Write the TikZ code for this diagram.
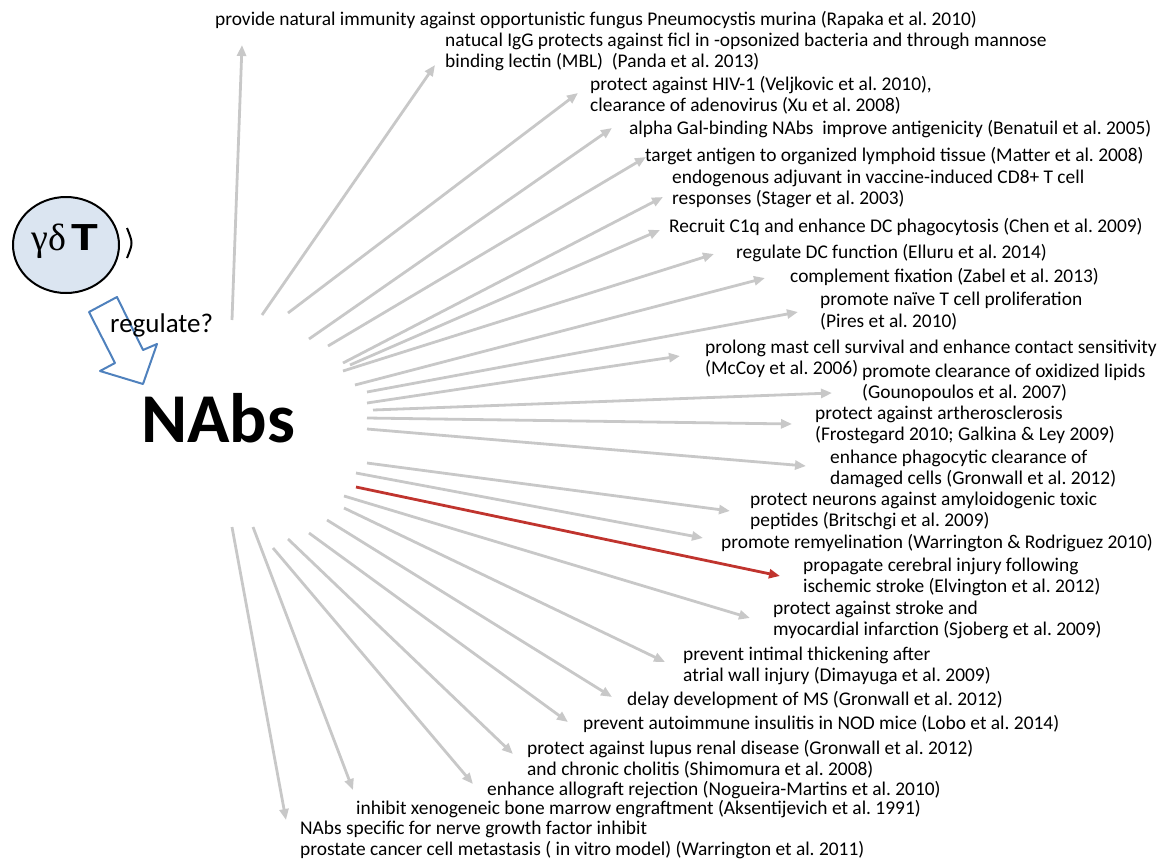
\documentclass[tikz,border=0pt]{standalone}
\usepackage{fontspec}
\setmainfont{Carlito}
\newfontfamily\greekfont{Liberation Serif}
\usetikzlibrary{arrows.meta,shapes.geometric}

\definecolor{arrowgray}{RGB}{200,200,200}
\definecolor{harmred}{RGB}{192,52,46}
\definecolor{cellfill}{RGB}{219,229,241}
\definecolor{regblue}{RGB}{79,129,189}

\begin{document}
\frenchspacing
\begin{tikzpicture}[
    x=1pt, y=-1pt,
    effect/.style={-{Triangle[length=11pt,width=9pt]}, line width=2.8pt, arrowgray},
    harm/.style={effect, harmred},
    finding/.style={anchor=west, align=left, inner sep=0pt, font=\fontsize{19.4}{21.5}\selectfont},
    cell/.style={draw, ellipse, line width=2pt, fill=cellfill, minimum width=106pt, minimum height=96pt, inner sep=0pt},
    hollow/.style={draw=regblue, line width=2pt, line join=round}
]
\useasboundingbox (0,0) rectangle (1163,863);

% gamma delta T cell and the question
\node[cell] (gdt) at (66,245) {};
\node[font=\fontsize{40}{40}\selectfont] at (65,241) (gdtext) {{\greekfont\fontsize{38}{38}\selectfont γδ}\hspace{5pt}\scalebox{1.35}[1]{\bfseries T}};
\draw[line width=2pt] (127,228) .. controls (133,243) .. (127,258);
\draw[hollow] (89,312) -- (117,297) -- (143,350) -- (157,344) -- (143,384) -- (100,371) -- (115,363) -- cycle;
\node[anchor=west, inner sep=0pt, font=\fontsize{27}{27}\selectfont] (reg) at (110,325) {regulate?};
\node[inner sep=0pt, font=\fontsize{70}{70}\selectfont\bfseries] (nabs) at (218,418) {NAbs};

% functions of NAbs
\node[finding] (rapaka) at (215,20) {provide natural immunity against opportunistic fungus Pneumocystis murina (Rapaka et al. 2010)};
\node[finding] (panda) at (445,52) {natucal IgG protects against ficl in -opsonized bacteria and through mannose\\binding lectin (MBL)\ \ (Panda et al. 2013)};
\node[finding] (veljkovic) at (590,95) {protect against HIV-1 (Veljkovic et al. 2010),\\clearance of adenovirus (Xu et al. 2008)};
\node[finding] (benatuil) at (629,129) {alpha Gal-binding NAbs\ \ improve antigenicity (Benatuil et al. 2005)};
\node[finding] (matter) at (645,156) {target antigen to organized lymphoid tissue (Matter et al. 2008)};
\node[finding] (stager) at (672,189) {endogenous adjuvant in vaccine-induced CD8+ T cell\\responses (Stager et al. 2003)};
\node[finding] (chen) at (669,227) {Recruit C1q and enhance DC phagocytosis (Chen et al. 2009)};
\node[finding] (elluru) at (736,253) {regulate DC function (Elluru et al. 2014)};
\node[finding] (zabel) at (790,277) {complement fixation (Zabel et al. 2013)};
\node[finding] (pires) at (820,311) {promote naïve T cell proliferation\\(Pires et al. 2010)};
\node[finding] (mccoy) at (705,359) {prolong mast cell survival and enhance contact sensitivity\\(McCoy et al. 2006)};
\node[finding] (gounopoulos) at (862,383) {promote clearance of oxidized lipids\\(Gounopoulos et al. 2007)};
\node[finding] (frostegard) at (815,425) {protect against artherosclerosis\\(Frostegard 2010; Galkina \& Ley 2009)};
\node[finding] (gronwall) at (830,469) {enhance phagocytic clearance of\\damaged cells (Gronwall et al. 2012)};
\node[finding] (britschgi) at (750,511) {protect neurons against amyloidogenic toxic\\peptides (Britschgi et al. 2009)};
\node[finding] (warrington) at (721,543) {promote remyelination (Warrington \& Rodriguez 2010)};
\node[finding] (elvington) at (803,577) {propagate cerebral injury following\\ischemic stroke (Elvington et al. 2012)};
\node[finding] (sjoberg) at (773,620) {protect against stroke and\\myocardial infarction (Sjoberg et al. 2009)};
\node[finding] (dimayuga) at (683,666) {prevent intimal thickening after\\atrial wall injury (Dimayuga et al. 2009)};
\node[finding] (gronwallms) at (627,700) {delay development of MS (Gronwall et al. 2012)};
\node[finding] (lobo) at (583,724) {prevent autoimmune insulitis in NOD mice (Lobo et al. 2014)};
\node[finding] (shimomura) at (527,759) {protect against lupus renal disease (Gronwall et al. 2012)\\and chronic cholitis (Shimomura et al. 2008)};
\node[finding] (nogueira) at (487,790) {enhance allograft rejection (Nogueira-Martins et al. 2010)};
\node[finding] (aksentijevich) at (356,809) {inhibit xenogeneic bone marrow engraftment (Aksentijevich et al. 1991)};
\node[finding] (warringtonngf) at (300,840) {NAbs specific for nerve growth factor inhibit\\prostate cancer cell metastasis ( in vitro model) (Warrington et al. 2011)};

% arrow ends
\coordinate (src-rapaka) at (232,320);        \coordinate (tip-rapaka) at (242,45);
\coordinate (src-panda) at (262,315);         \coordinate (tip-panda) at (435,65);
\coordinate (src-veljkovic) at (288,313);     \coordinate (tip-veljkovic) at (578,93);
\coordinate (src-benatuil) at (309,339);      \coordinate (tip-benatuil) at (612,128);
\coordinate (src-matter) at (328,346);        \coordinate (tip-matter) at (646,157);
\coordinate (src-stager) at (343,363);        \coordinate (tip-stager) at (663,197);
\coordinate (src-chen) at (350,365);          \coordinate (tip-chen) at (660,230);
\coordinate (src-elluru) at (343,371);        \coordinate (tip-elluru) at (714,254);
\coordinate (src-zabel) at (355,385);         \coordinate (tip-zabel) at (765,278);
\coordinate (src-pires) at (367,392);         \coordinate (tip-pires) at (798,312);
\coordinate (src-mccoy) at (367,403);         \coordinate (tip-mccoy) at (680,356);
\coordinate (src-gounopoulos) at (373,410);   \coordinate (tip-gounopoulos) at (832,393);
\coordinate (src-frostegard) at (367,418);    \coordinate (tip-frostegard) at (792,424);
\coordinate (src-gronwall) at (367,429);      \coordinate (tip-gronwall) at (806,466);
\coordinate (src-britschgi) at (367,463);     \coordinate (tip-britschgi) at (730,511);
\coordinate (src-warrington) at (356,473);    \coordinate (tip-warrington) at (703,538);
\coordinate (src-elvington) at (356,487);     \coordinate (tip-elvington) at (780,576);
\coordinate (src-sjoberg) at (344,496);       \coordinate (tip-sjoberg) at (750,618);
\coordinate (src-dimayuga) at (344,508);      \coordinate (tip-dimayuga) at (665,662);
\coordinate (src-gronwallms) at (327,520);    \coordinate (tip-gronwallms) at (612,697);
\coordinate (src-lobo) at (309,533);          \coordinate (tip-lobo) at (568,722);
\coordinate (src-shimomura) at (288,539);     \coordinate (tip-shimomura) at (513,754);
\coordinate (src-nogueira) at (273,548);      \coordinate (tip-nogueira) at (473,784);
\coordinate (src-aksentijevich) at (253,527); \coordinate (tip-aksentijevich) at (353,790);
\coordinate (src-warringtonngf) at (232,527); \coordinate (tip-warringtonngf) at (286,820);

\draw[effect] (src-rapaka) -- (tip-rapaka);
\draw[effect] (src-panda) -- (tip-panda);
\draw[effect] (src-veljkovic) -- (tip-veljkovic);
\draw[effect] (src-benatuil) -- (tip-benatuil);
\draw[effect] (src-matter) -- (tip-matter);
\draw[effect] (src-stager) -- (tip-stager);
\draw[effect] (src-chen) -- (tip-chen);
\draw[effect] (src-elluru) -- (tip-elluru);
\draw[effect] (src-zabel) -- (tip-zabel);
\draw[effect] (src-pires) -- (tip-pires);
\draw[effect] (src-mccoy) -- (tip-mccoy);
\draw[effect] (src-gounopoulos) -- (tip-gounopoulos);
\draw[effect] (src-frostegard) -- (tip-frostegard);
\draw[effect] (src-gronwall) -- (tip-gronwall);
\draw[effect] (src-britschgi) -- (tip-britschgi);
\draw[effect] (src-warrington) -- (tip-warrington);
\draw[harm] (src-elvington) -- (tip-elvington);
\draw[effect] (src-sjoberg) -- (tip-sjoberg);
\draw[effect] (src-dimayuga) -- (tip-dimayuga);
\draw[effect] (src-gronwallms) -- (tip-gronwallms);
\draw[effect] (src-lobo) -- (tip-lobo);
\draw[effect] (src-shimomura) -- (tip-shimomura);
\draw[effect] (src-nogueira) -- (tip-nogueira);
\draw[effect] (src-aksentijevich) -- (tip-aksentijevich);
\draw[effect] (src-warringtonngf) -- (tip-warringtonngf);
\end{tikzpicture}
\end{document}
